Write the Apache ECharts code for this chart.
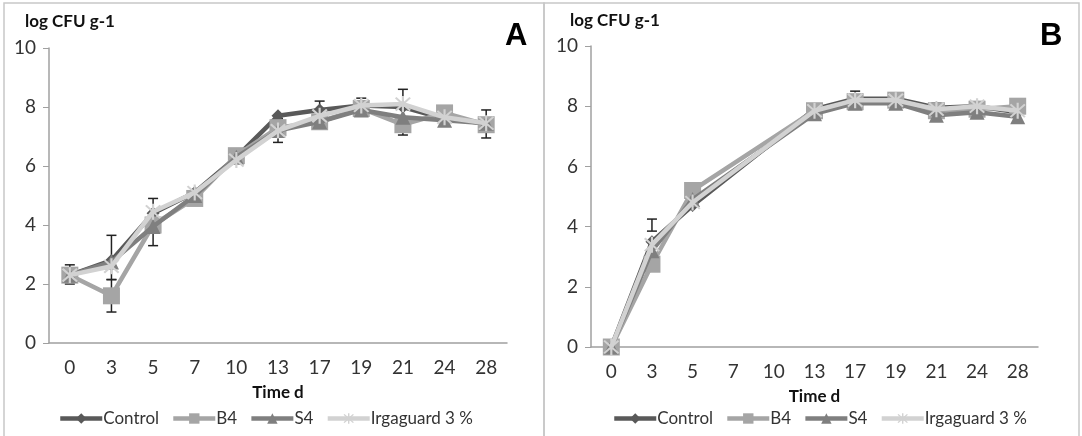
<!DOCTYPE html>
<html><head><meta charset="utf-8">
<script src="https://cdn.jsdelivr.net/npm/echarts@6/dist/echarts.min.js"></script>
<style>html,body{margin:0;padding:0;background:#fff}#c{width:1082px;height:436px}</style>
</head><body><div id="c"></div>
<script>
const days = ['0','3','5','7','10','13','17','19','21','24','28'];
const yTicks = [0, 10, 2];
const seriesNames = ['Control','B4','S4','Irgaguard 3 %'];
// Panel A
const ctrlA = [2.3, 2.8, 4.4, 5.1, 6.3, 7.7, 7.9, 8.05, 8.0, 7.6, 7.45];
const b4A   = [2.3, 1.6, 4.0, 4.9, 6.35, 7.3, 7.5, 7.95, 7.4, 7.8, 7.4];
const s4A   = [2.3, 2.75, 3.95, 5.0, 6.3, 7.2, 7.5, 7.9, 7.65, 7.55, 7.45];
const irgA  = [2.3, 2.6, 4.45, 5.1, 6.2, 7.2, 7.7, 8.05, 8.1, 7.65, 7.45];
// Panel B (no samples at day 7 and 10)
const ctrlB = [0, 3.5, 4.7, null, null, 7.9, 8.25, 8.25, 7.95, 8.0, 7.8];
const b4B   = [0, 2.75, 5.2, null, null, 7.85, 8.15, 8.2, 7.85, 7.9, 8.0];
const s4B   = [0, 3.2, 4.9, null, null, 7.75, 8.1, 8.1, 7.7, 7.8, 7.65];
const irgB  = [0, 3.4, 4.8, null, null, 7.85, 8.2, 8.2, 7.9, 8.0, 7.85];
// error bars: [category index, low, high]
const errA = [[0,2.0,2.65],[1,1.05,2.15],[1,2.15,3.65],[2,3.3,4.9],[5,6.8,7.6],[6,7.6,8.2],[7,7.8,8.3],[8,7.05,8.6],[10,6.95,7.9]];
const errB = [[1,3.85,4.25],[6,8.1,8.5],[7,8.1,8.4],[8,7.75,8.1],[9,7.9,8.15]];

const colors = ['#595959','#a5a5a5','#7f7f7f','#d2d2d2'];
const asterisk = 'path://M-1.2,-10L1.2,-10L1.2,10L-1.2,10Z M-7.15,-8.85L8.85,7.15L7.15,8.85L-8.85,-7.15Z M7.15,-8.85L8.85,-7.15L-7.15,8.85L-8.85,7.15Z';
const symbols = ['diamond','rect','triangle',asterisk];
const symSizes = [13,17,15,16];
const FONT = 'Lato, "Open Sans", sans-serif';

function lineSeries(idx, data, gi){
  return {
    type:'line', name:seriesNames[idx], data:data, xAxisIndex:gi, yAxisIndex:gi,
    connectNulls:true, symbol:symbols[idx], symbolSize:symSizes[idx],
    lineStyle:{color:colors[idx], width:4.5}, itemStyle:{color:colors[idx]},
    z: 3+idx, animation:false
  };
}
function errSeries(data, gi){
  return {
    type:'custom', data:data, xAxisIndex:gi, yAxisIndex:gi, z:2, silent:true, animation:false,
    renderItem:function(params, api){
      const x = api.value(0);
      const lo = api.coord([x, api.value(1)]);
      const hi = api.coord([x, api.value(2)]);
      const w = 5;
      const st = {stroke:'#222', lineWidth:1.5};
      return {type:'group', children:[
        {type:'line', shape:{x1:lo[0],y1:lo[1],x2:hi[0],y2:hi[1]}, style:st},
        {type:'line', shape:{x1:lo[0]-w,y1:lo[1],x2:lo[0]+w,y2:lo[1]}, style:st},
        {type:'line', shape:{x1:hi[0]-w,y1:hi[1],x2:hi[0]+w,y2:hi[1]}, style:st}
      ]};
    }
  };
}
function xAx(gi){
  return {type:'category', gridIndex:gi, data:days, boundaryGap:true,
    axisLine:{lineStyle:{color:'#a0a0a0', width:1.5}},
    axisTick:{length:6, lineStyle:{color:'#a0a0a0'}},
    axisLabel:{color:'#333', fontSize:19, fontFamily:FONT, margin:15},
    name:'Time d', nameLocation:'middle', nameGap:41,
    nameTextStyle:{color:'#111', fontSize:17, fontWeight:'bold', fontFamily:FONT}};
}
function yAx(gi){
  return {type:'value', gridIndex:gi, min:yTicks[0], max:yTicks[1], interval:yTicks[2],
    splitLine:{show:false},
    axisLine:{show:true, lineStyle:{color:'#a0a0a0', width:1.5}},
    axisTick:{show:true, length:6, lineStyle:{color:'#a0a0a0'}},
    axisLabel:{color:'#333', fontSize:19, fontFamily:FONT, margin:13}};
}
function legend(left){
  return {left:left, top:405, itemWidth:42, itemHeight:13, itemGap:12, data:seriesNames,
    lineStyle:{width:4.5},
    textStyle:{color:'#333', fontSize:17, fontFamily:FONT, padding:[0,0,0,-4]}};
}
const chart = echarts.init(document.getElementById('c'));
chart.setOption({
  animation:false,
  grid:[
    {left:49, right:575, top:48, bottom:93},
    {left:591, right:44, top:46, bottom:89}
  ],
  xAxis:[xAx(0), xAx(1)],
  yAxis:[yAx(0), yAx(1)],
  legend:[legend(53), legend(607)],
  title:[
    {text:'log CFU g-1', left:20, top:8, textStyle:{fontSize:17, fontWeight:'bold', color:'#111', fontFamily:FONT}},
    {text:'A', left:500, top:16, textStyle:{fontSize:31, fontWeight:'bold', color:'#000', fontFamily:'"Liberation Sans", Arial, sans-serif'}},
    {text:'log CFU g-1', left:565, top:7, textStyle:{fontSize:17, fontWeight:'bold', color:'#111', fontFamily:FONT}},
    {text:'B', left:1035, top:16, textStyle:{fontSize:31, fontWeight:'bold', color:'#000', fontFamily:'"Liberation Sans", Arial, sans-serif'}}
  ],
  graphic:[
    {type:'rect', shape:{x:4, y:3, width:540, height:440}, style:{fill:'none', stroke:'#c8c8c8', lineWidth:1.5}, silent:true},
    {type:'rect', shape:{x:544, y:3, width:535, height:440}, style:{fill:'none', stroke:'#c8c8c8', lineWidth:1.5}, silent:true}
  ],
  series:[
    errSeries(errA,0),
    lineSeries(0,ctrlA,0), lineSeries(1,b4A,0), lineSeries(2,s4A,0), lineSeries(3,irgA,0),
    errSeries(errB,1),
    lineSeries(0,ctrlB,1), lineSeries(1,b4B,1), lineSeries(2,s4B,1), lineSeries(3,irgB,1)
  ]
});
</script></body></html>
